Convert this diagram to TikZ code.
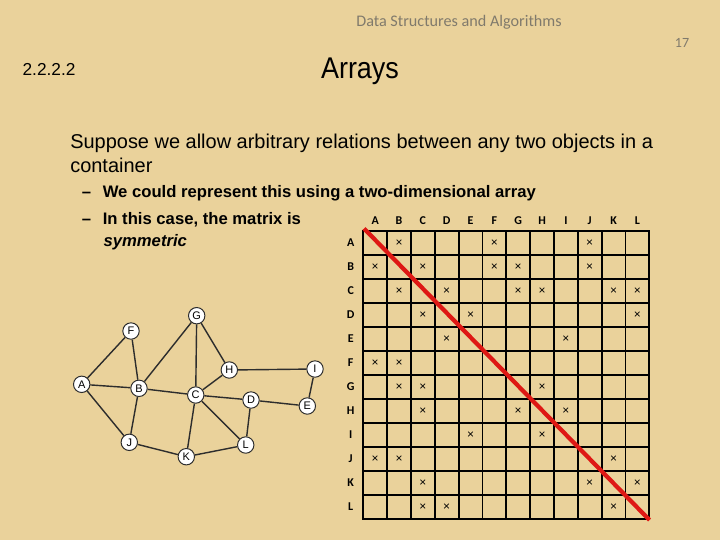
\documentclass[tikz,border=0pt]{standalone}
\usepackage{fontspec}
\setmainfont{Liberation Sans}
\newfontfamily\calibri{Carlito}
\newfontfamily\narrowsans[FakeStretch=0.9]{Liberation Sans}
\definecolor{paper}{RGB}{234,210,155}
\definecolor{slidegray}{RGB}{128,122,108}
\definecolor{edgegray}{RGB}{45,45,45}
\definecolor{diagred}{RGB}{222,24,20}
\tikzset{
  vertex/.style={circle,draw=edgegray,fill=white,line width=0.7pt,inner sep=0pt,
    minimum size=0.41cm,font=\fontsize{7.8}{8}\selectfont},
  edge/.style={edgegray,line width=1pt},
  hdr/.style={font=\calibri\bfseries\fontsize{8.5}{9}\selectfont},
  cross/.style={inner sep=0pt,font=\fontsize{8.5}{8}\selectfont},
  gridline/.style={black,line width=1.3pt,line cap=rect},
  body/.style={anchor=base west,inner sep=0pt,font=\fontsize{14.2}{16}\selectfont},
  sub/.style={anchor=base west,inner sep=0pt,font=\bfseries\fontsize{11.85}{14}\selectfont}
}
\begin{document}
\begin{tikzpicture}[x=0.025cm,y=-0.025cm]
  \fill[paper] (0,0) rectangle (720,540);
  \def\mx{363.3}
  \def\my{231}
  \def\cw{23.83}
  \def\ch{24}
  % slide header and text
  \node[anchor=base,font=\calibri\fontsize{11.5}{12}\selectfont,text=slidegray] (header) at (459,26) {Data Structures and Algorithms};
  \node[anchor=base,font=\calibri\fontsize{10}{12}\selectfont,text=slidegray] (pageno) at (682,47.3) {17};
  \node[anchor=base west,inner sep=0pt,font=\fontsize{12.3}{14}\selectfont] (secno) at (22.3,75.7) {2.2.2.2};
  \node[anchor=base,font=\narrowsans\fontsize{21.3}{24}\selectfont] (title) at (360,78.3) {Arrays};
  \node[body] (intro1) at (70,148.3) {Suppose we allow arbitrary relations between any two objects in a};
  \node[body] (intro2) at (70,172.7) {container};
  \node[sub] (dash1) at (81.7,197.3) {–};
  \node[sub] (item1) at (102.5,197.3) {We could represent this using a two-dimensional array};
  \node[sub] (dash2) at (81.7,224) {–};
  \node[sub] (item2) at (102.5,224) {In this case, the matrix is};
  \node[sub] (item3) at (103.3,246.7) {\itshape symmetric};
  % the graph
  \node[vertex] (A) at (81.7,384.3) {A};
  \node[vertex] (B) at (139,388.3) {B};
  \node[vertex] (C) at (195.7,395) {C};
  \node[vertex] (D) at (251,400) {D};
  \node[vertex] (E) at (307.3,406) {E};
  \node[vertex] (F) at (131,331) {F};
  \node[vertex] (G) at (196.7,315.7) {G};
  \node[vertex] (H) at (229.3,370) {H};
  \node[vertex] (I) at (315,369) {I};
  \node[vertex] (J) at (129.3,442.3) {J};
  \node[vertex] (K) at (186.3,456.7) {K};
  \node[vertex] (L) at (245.7,445) {L};
  \foreach \u/\v in {A/F,A/B,A/J,F/B,B/G,B/C,B/J,G/C,G/H,H/C,H/I,I/E,C/D,D/E,C/K,C/L,D/L,J/K,K/L}
    \draw[edge] (\u) -- (\v);
  % adjacency matrix
  \foreach \i in {0,...,12} {
    \draw[gridline] ({\mx+\i*\cw},\my) -- ({\mx+\i*\cw},{\my+12*\ch});
    \draw[gridline] (\mx,{\my+\i*\ch}) -- ({\mx+12*\cw},{\my+\i*\ch});
  }
  \foreach \l [count=\i] in {A,B,C,D,E,F,G,H,I,J,K,L} {
    \node[hdr] (col\l) at ({\mx+(\i-0.5)*\cw},220.3) {\l};
    \node[hdr] (row\l) at (350.7,{\my+(\i-0.5)*\ch}) {\l};
  }
  \foreach \r/\c in {1/2,1/6,1/10,2/1,2/3,2/6,2/7,2/10,3/2,3/4,3/7,3/8,3/11,3/12,
      4/3,4/5,4/12,5/4,5/9,6/1,6/2,7/2,7/3,7/8,8/3,8/7,8/9,9/5,9/8,
      10/1,10/2,10/11,11/3,11/10,11/12,12/3,12/4,12/11}
    \node[cross] (x\r-\c) at ({\mx+(\c-0.5)*\cw},{\my+(\r-0.5)*\ch}) {×};
  \coordinate (diagstart) at (364,228.5);
  \coordinate (diagend) at (649.5,520);
  \draw[diagred,line width=3pt] (diagstart) -- (diagend);
\end{tikzpicture}
\end{document}
